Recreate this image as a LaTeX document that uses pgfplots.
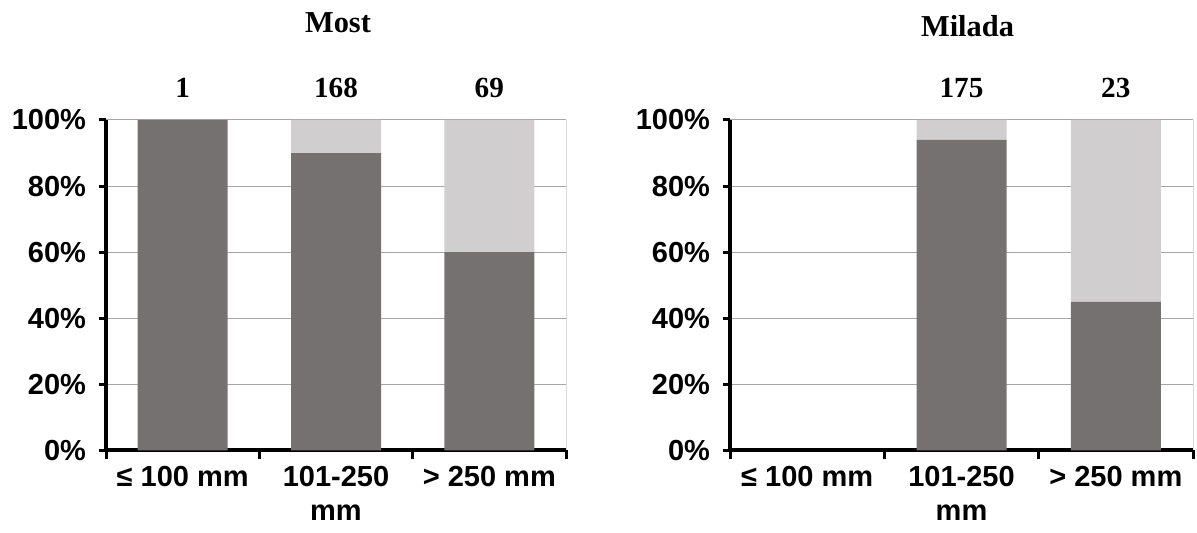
\documentclass[border=0pt]{standalone}
\usepackage{fontspec}
\setmainfont{Liberation Serif}
\setsansfont{Liberation Sans}
\usepackage{pgfplots}
\pgfplotsset{compat=1.18}
\definecolor{darkbar}{HTML}{767171}
\definecolor{lightbar}{HTML}{D0CECE}
\definecolor{gridc}{HTML}{A6A6A6}
\definecolor{edgec}{HTML}{D9D9D9}
\pgfplotsset{
  geom/.style={
    anchor=south west,
    scale only axis,
    height=165.25pt,
    ymin=0, ymax=100,
    xmin=-0.5, xmax=2.5,
    clip=false,
  },
  mystyle/.style={
    geom,
    ybar stacked,
    bar width=45pt,
    axis x line*=bottom,
    axis y line*=left,
    axis line style={line width=2pt, -},
    ytick={0,20,40,60,80,100},
    yticklabel={\pgfmathprintnumber{\tick}\%},
    /pgf/number format/assume math mode=true,
    ymajorgrids,
    grid style={gridc, line width=0.5pt},
    xtick={0,1,2},
    xticklabels={{≤ 100 mm},{101-250\\mm},{> 250 mm}},
    minor xtick={-0.5,0.5,1.5,2.5},
    tick align=outside,
    major x tick style={draw=none},
    minor tick length=4.5pt,
    minor tick style={line width=1.5pt, black},
    major tick length=3.5pt,
    major y tick style={line width=1.5pt, black},
    ticklabel style={font=\sffamily\bfseries\fontsize{14.5}{17}\selectfont},
    xticklabel style={align=center, yshift=-1pt},
    yticklabel style={xshift=-3pt},
    title style={font=\rmfamily\bfseries\fontsize{15.2}{17}\selectfont, anchor=base},
  },
  labstyle/.style={
    geom, hide axis,
    nodes near coords style={anchor=base, yshift=11pt, font=\rmfamily\bfseries\fontsize{14.6}{16}\selectfont, black},
  }
}
\begin{document}
\begin{tikzpicture}
\useasboundingbox (0,0) rectangle (598.5pt,266.5pt);
% Most
\begin{axis}[mystyle, at={(53pt,41.25pt)}, width=230pt,
  title={Most}, title style={yshift=37.5pt, xshift=1pt}]
\addplot[fill=darkbar, draw=none] coordinates {(0,100) (1,90) (2,60)};
\addplot[fill=lightbar, draw=none] coordinates {(0,0) (1,10) (2,40)};
\draw[edgec, line width=0.5pt] (rel axis cs:1,0) -- (rel axis cs:1,1);
\end{axis}
\begin{axis}[labstyle, at={(53pt,41.25pt)}, width=230pt]
\addplot[draw=none, mark=none, nodes near coords, point meta=explicit symbolic]
  coordinates {(0,100)[1] (1,100)[168] (2,100)[69]};
\end{axis}
% Milada
\begin{axis}[mystyle, at={(365pt,41.25pt)}, width=231.5pt,
  title={Milada}, title style={yshift=35.5pt, xshift=3pt}]
\addplot[fill=darkbar, draw=none] coordinates {(1,94) (2,45)};
\addplot[fill=lightbar, draw=none] coordinates {(1,6) (2,55)};
\draw[edgec, line width=0.5pt] (rel axis cs:1,0) -- (rel axis cs:1,1);
\end{axis}
\begin{axis}[labstyle, at={(365pt,41.25pt)}, width=231.5pt]
\addplot[draw=none, mark=none, nodes near coords, point meta=explicit symbolic]
  coordinates {(1,100)[175] (2,100)[23]};
\end{axis}
\end{tikzpicture}
\end{document}
